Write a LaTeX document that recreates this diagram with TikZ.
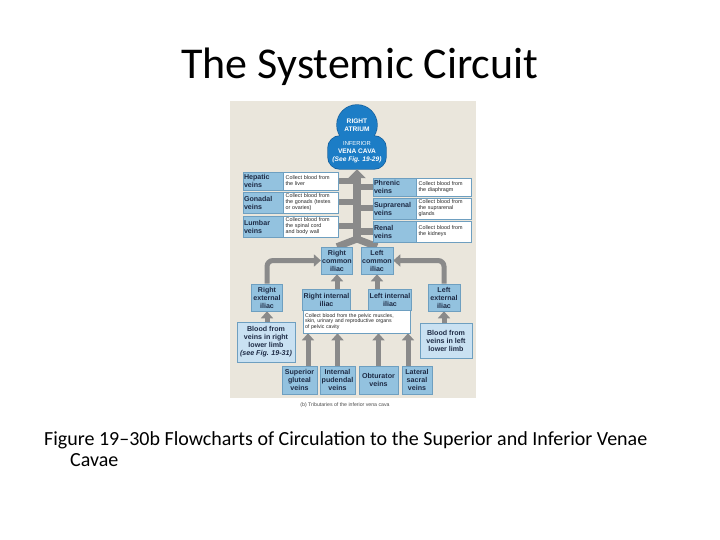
\documentclass[tikz,border=0pt]{standalone}
\usepackage{fontspec}
\setmainfont{Carlito}
\newfontfamily\diagfont{Liberation Sans}
\usetikzlibrary{arrows.meta,positioning,backgrounds}
\definecolor{panelbeige}{HTML}{EAE6DC}
\definecolor{veinblue}{HTML}{93C2DF}
\definecolor{veinedge}{HTML}{6E9FC0}
\definecolor{limbblue}{HTML}{C9E1F2}
\definecolor{cloudblue}{HTML}{1C7DC6}
\definecolor{cloudedge}{HTML}{145F9C}
\definecolor{flowgray}{HTML}{8A8A8A}
\definecolor{labelink}{HTML}{1E2B45}

\begin{document}
\begin{tikzpicture}[x=1pt, y=-1pt,
    vein/.style={draw=veinedge, fill=veinblue, line width=0.6pt, inner xsep=1pt, inner ysep=1pt, font=\diagfont\bfseries\fontsize{7.1}{8}\selectfont, text=labelink, align=center},
    pairlabel/.style={vein, align=left, text width=#1, minimum height=18pt},
    desc/.style={draw=veinedge, fill=white, line width=0.6pt, inner xsep=2pt, inner ysep=1pt, font=\diagfont\fontsize{5.4}{5.9}\selectfont, align=left, text width=51pt, text=black!85},
    limb/.style={vein, fill=limbblue},
    cloud/.style={fill=cloudblue, text=white, font=\diagfont\bfseries\fontsize{6.6}{8}\selectfont, align=center, inner sep=0pt},
    flow/.style={draw=flowgray, line width=5pt, -{Triangle[length=7pt,width=12pt]}},
    branch/.style={draw=flowgray, line width=6pt}
]
\useasboundingbox (0,0) rectangle (720,540);

% Slide background and figure panel
\begin{scope}[on background layer]
\fill[white] (0,0) rectangle (720,540);
\fill[panelbeige] (230,101) rectangle (476,398);
\end{scope}

% Title and caption
\node[font=\fontsize{44}{50}\selectfont] (title) at (360,67) {The Systemic Circuit};
\node[anchor=north west, align=left, inner sep=0pt, font=\fontsize{20}{21}\selectfont] (caption) at (44,431) {Figure 19–30b Flowcharts of Circulation to the Superior and Inferior Venae\\\hspace*{26pt}Cavae};

% Right atrium and inferior vena cava
\node[cloud, circle, minimum size=40pt] (atr) at (357,125) {RIGHT\\ATRIUM};
\node[cloud, rounded corners=12pt, minimum width=58pt, minimum height=33pt] (ivc) at (357,152.5) {{\mdseries\fontsize{5.8}{8}\selectfont INFERIOR}\\VENA CAVA\\{\itshape (See Fig. 19-29)}};
\begin{scope}[on background layer]
\node[draw=cloudedge, line width=1.4pt, circle, minimum size=40pt] at (atr) {};
\node[draw=cloudedge, line width=1.4pt, rounded corners=12pt, minimum width=58pt, minimum height=33pt] at (ivc) {};
\end{scope}
\coordinate (split) at (357,239);

% Tributaries on the left of the trunk
\node[pairlabel=38pt] (hep) at (263,181) {Hepatic\\veins};
\node[desc, minimum height=18pt, right=0pt of hep] (hepd) {Collect blood from\\the liver};
\node[pairlabel=38pt, minimum height=21pt] (gon) at (263,202.5) {Gonadal\\veins};
\node[desc, minimum height=21pt, right=0pt of gon] (gond) {Collect blood from\\the gonads (testes\\or ovaries)};
\node[pairlabel=38pt, minimum height=21pt] (lum) at (263,226.5) {Lumbar\\veins};
\node[desc, minimum height=21pt, right=0pt of lum] (lumd) {Collect blood from\\the spinal cord\\and body wall};

% Tributaries on the right of the trunk
\node[pairlabel=41pt] (phr) at (394.5,187) {Phrenic\\veins};
\node[desc, minimum height=18pt, right=0pt of phr] (phrd) {Collect blood from\\the diaphragm};
\node[pairlabel=41pt, minimum height=21pt] (sup) at (394.5,208.5) {Suprarenal\\veins};
\node[desc, minimum height=21pt, right=0pt of sup] (supd) {Collect blood from\\the suprarenal\\glands};
\node[pairlabel=41pt, minimum height=21pt] (ren) at (394.5,231.5) {Renal\\veins};
\node[desc, minimum height=21pt, right=0pt of ren] (rend) {Collect blood from\\the kidneys};

% Iliac veins
\node[vein, minimum width=30pt, minimum height=27pt] (rci) at (337,260.5) {Right\\common\\iliac};
\node[vein, minimum width=32pt, minimum height=27pt] (lci) at (377,260.5) {Left\\common\\iliac};
\node[vein, minimum width=31pt, minimum height=27pt] (rei) at (267,297.5) {Right\\external\\iliac};
\node[vein, minimum width=32pt, minimum height=27pt] (lei) at (444,297.5) {Left\\external\\iliac};
\node[vein, minimum width=47pt, minimum height=21pt] (rii) at (326.5,299.5) {Right internal\\iliac};
\node[vein, minimum width=42pt, minimum height=21pt] (lii) at (390,299.5) {Left internal\\iliac};
\node[desc, text width=103pt, minimum height=23pt, font=\diagfont\fontsize{5.2}{5.7}\selectfont] (note) at (356.5,321.5) {Collect blood from the pelvic muscles,\\skin, urinary and reproductive organs\\of pelvic cavity};

% Lower limbs
\node[limb, minimum width=58pt, minimum height=40pt] (rbl) at (266,342) {Blood from\\veins in right\\lower limb\\{\itshape (see Fig. 19-31)}};
\node[limb, minimum width=52pt, minimum height=35pt] (lbl) at (446,340.5) {Blood from\\veins in left\\lower limb};

% Pelvic tributaries
\node[vein, minimum width=35pt, minimum height=28pt] (sgv) at (299.5,380) {Superior\\gluteal\\veins};
\node[vein, minimum width=35pt, minimum height=28pt] (ipv) at (337.5,380) {Internal\\pudendal\\veins};
\node[vein, minimum width=39pt, minimum height=28pt] (obv) at (378.5,380) {Obturator\\veins};
\node[vein, minimum width=30pt, minimum height=28pt] (lsv) at (417,380) {Lateral\\sacral\\veins};

\node[font=\diagfont\fontsize{5.2}{6}\selectfont, text=black!70] (figlabel) at (345,405) {(b) Tributaries of the inferior vena cava};

% Connectors
\begin{scope}[on background layer]
\draw[flow, line width=8pt, -{Triangle[length=9pt,width=17pt]}] (split) -- (split |- ivc.south);
\draw[branch, line width=7pt, line join=round] (rci.north) -- (split) -- (lci.north);
\foreach \d in {hepd,gond,lumd} \draw[branch] (\d.east) -- (\d.east -| split);
\foreach \v in {phr,sup,ren} \draw[branch] (\v.west) -- (\v.west -| split);
\draw[flow, rounded corners=6pt] (rei.north) |- (rci.west);
\draw[flow, rounded corners=6pt] (lei.north) |- (lci.east);
\draw[flow] (rci.south |- rii.north) -- (rci.south);
\draw[flow] (lci.south |- lii.north) -- (lci.south);
\draw[flow] (rbl.north -| rei.south) -- (rei.south);
\draw[flow] (lbl.north -| lei.south) -- (lei.south);
\draw[flow] ([xshift=8.5pt]sgv.north) -- ([xshift=8.5pt]sgv.north |- note.south);
\draw[flow] (ipv.north) -- (ipv.north |- note.south);
\draw[flow] (obv.north) -- (obv.north |- note.south);
\draw[flow] ([xshift=-9pt]lsv.north) -- ([xshift=-9pt]lsv.north |- note.south);
\end{scope}

\end{tikzpicture}
\end{document}
